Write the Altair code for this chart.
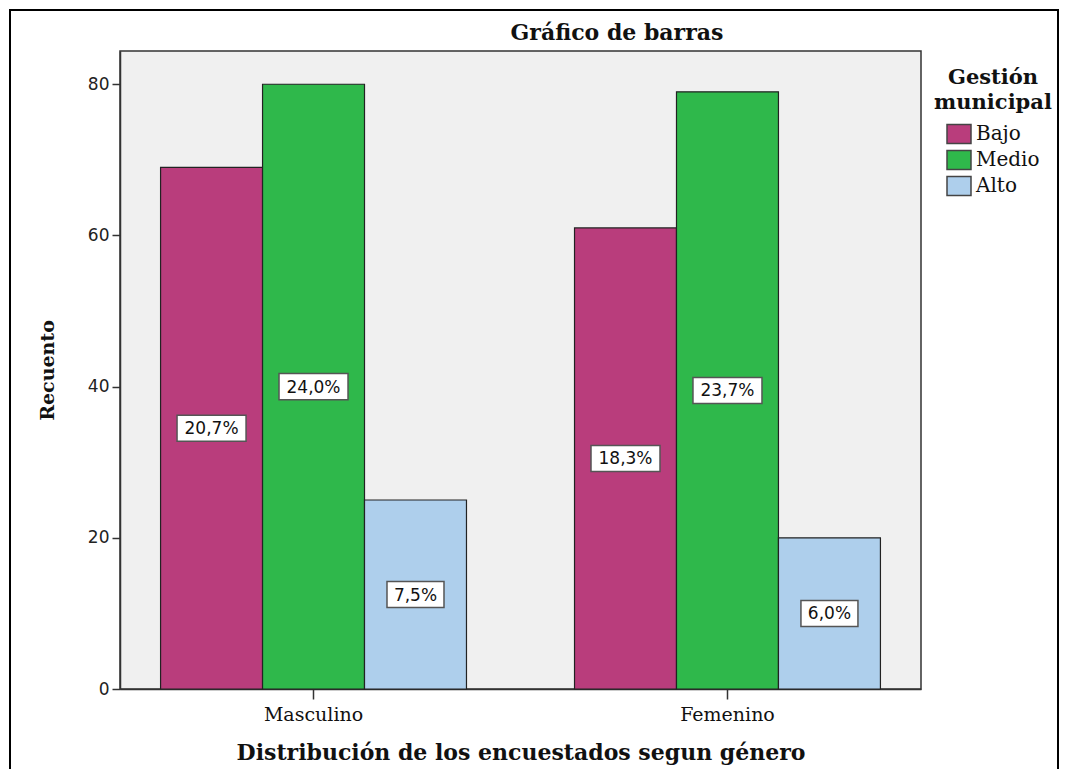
import altair as alt
import pandas as pd

generos = ["Masculino", "Femenino"]
niveles = ["Bajo", "Medio", "Alto"]
recuento_masculino = [69, 80, 25]
recuento_femenino = [61, 79, 20]
pct_masculino = ["20,7%", "24,0%", "7,5%"]
pct_femenino = ["18,3%", "23,7%", "6,0%"]
colores = ["#B93D7C", "#2FB84B", "#AECFEC"]
titulo = "Gráfico de barras"

rows = []
for g, vals, pcts in [(generos[0], recuento_masculino, pct_masculino),
                      (generos[1], recuento_femenino, pct_femenino)]:
    for n, v, p in zip(niveles, vals, pcts):
        rows.append({"genero": g, "nivel": n, "recuento": v, "pct": p})
df = pd.DataFrame(rows)

SERIF = "DejaVu Serif"
SANS = "DejaVu Sans"

x_enc = alt.X("genero:N", sort=generos,
              scale=alt.Scale(paddingInner=0.261, paddingOuter=0.098),
              axis=alt.Axis(title="Distribución de los encuestados segun género",
                            labelAngle=0, labelFont=SERIF, labelFontSize=19,
                            labelColor="#111", labelPadding=6,
                            tickSize=10, tickColor="#333", tickWidth=1.5,
                            domainColor="#333", domainWidth=1.5,
                            titleFont=SERIF, titleFontSize=22, titleFontWeight="bold",
                            titleColor="#111", titlePadding=18))
xo_enc = alt.XOffset("nivel:N", sort=niveles,
                     scale=alt.Scale(paddingInner=0, paddingOuter=0))
y_scale = alt.Scale(domain=[0, 84.4], nice=False)

base = alt.Chart(df)

bars = base.mark_bar(stroke="#222", strokeWidth=1.2).encode(
    x=x_enc,
    xOffset=xo_enc,
    y=alt.Y("recuento:Q", scale=y_scale,
            axis=alt.Axis(title="Recuento", values=[0, 20, 40, 60, 80],
                          grid=False, labelFont=SANS, labelFontSize=17,
                          labelColor="#222", labelPadding=3,
                          tickSize=8, tickColor="#333", tickWidth=1.5,
                          domainColor="#333", domainWidth=1.5,
                          titleFont=SERIF, titleFontSize=19, titleFontWeight="bold",
                          titleColor="#111", titlePadding=30)),
    color=alt.Color("nivel:N", sort=niveles,
                    scale=alt.Scale(domain=niveles, range=colores),
                    legend=alt.Legend(title=["Gestión", "municipal"],
                                      orient="none", legendX=814, legendY=16,
                                      titleFont=SERIF, titleFontSize=21,
                                      titleFontWeight="bold", titleColor="#111",
                                      titleAlign="center", titleAnchor="middle",
                                      titleLineHeight=25, titlePadding=8,
                                      labelFont=SERIF, labelFontSize=20,
                                      labelColor="#111", labelOffset=4,
                                      symbolType="M-1,-0.79L1,-0.79L1,0.79L-1,0.79Z",
                                      symbolSize=576, symbolStrokeColor="#444",
                                      symbolStrokeWidth=1.5, rowPadding=-2)),
)

lab = base.transform_calculate(
    mid="datum.recuento / 2", n="length(datum.pct)"
)

box_long = lab.transform_filter("datum.n == 5").mark_point(
    shape="M-1,-0.377L1,-0.377L1,0.377L-1,0.377Z", size=4761,
    filled=True, fill="white", stroke="#555", strokeWidth=1.5, opacity=1
).encode(x=alt.X("genero:N", sort=generos), xOffset=xo_enc,
         y=alt.Y("mid:Q", scale=y_scale))

box_short = lab.transform_filter("datum.n == 4").mark_point(
    shape="M-1,-0.456L1,-0.456L1,0.456L-1,0.456Z", size=3249,
    filled=True, fill="white", stroke="#555", strokeWidth=1.5, opacity=1
).encode(x=alt.X("genero:N", sort=generos), xOffset=xo_enc,
         y=alt.Y("mid:Q", scale=y_scale))

texts = lab.mark_text(font=SANS, fontSize=17, color="#111",
                      align="center", baseline="middle", dy=1).encode(
    x=alt.X("genero:N", sort=generos), xOffset=xo_enc,
    y=alt.Y("mid:Q", scale=y_scale), text="pct:N")

one = alt.Chart(alt.Data(values=[{"t": titulo}]))

title_mark = one.mark_text(font=SERIF, fontSize=22, fontWeight="bold",
                           color="#111", align="center", baseline="middle",
                           clip=False).encode(
    x=alt.value(497), y=alt.value(-18), text="t:N")

frame = one.mark_rect(
    fill="transparent", stroke="#000", strokeWidth=2, clip=False
).encode(x=alt.value(-110), x2=alt.value(938), y=alt.value(-41), y2=alt.value(760))

chart = alt.layer(bars, box_long, box_short, texts, title_mark, frame).properties(
    width=801, height=638,
    autosize=alt.AutoSizeParams(type="none"),
    padding={"left": 112, "top": 43, "right": 139, "bottom": 80},
    background="white",
).configure_view(fill="#F0F0F0", stroke="#333", strokeWidth=1.5)

chart.save("out.html", embed_options={"renderer": "svg", "actions": False})
